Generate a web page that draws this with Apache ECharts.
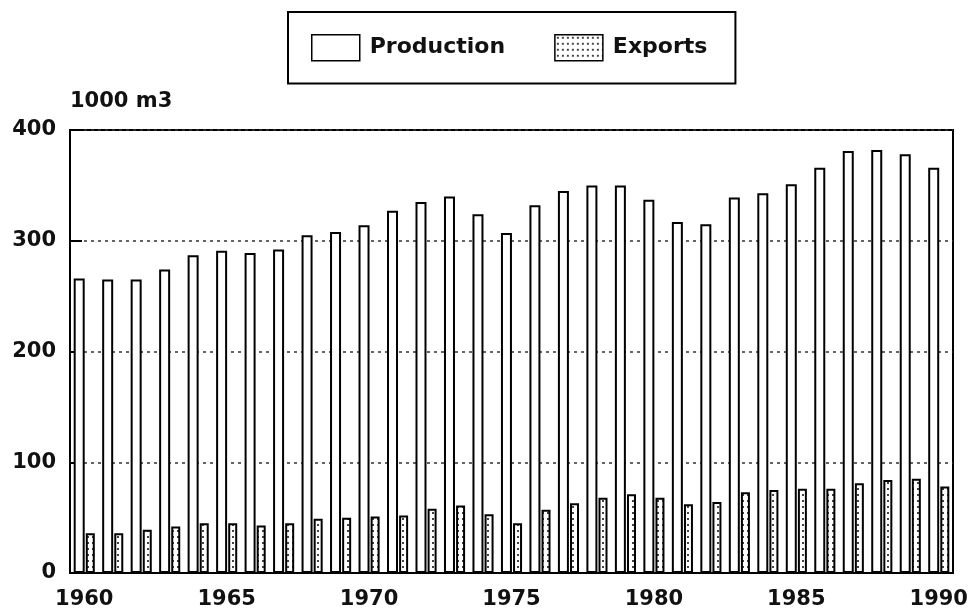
<!DOCTYPE html>
<html>
<head>
<meta charset="utf-8">
<title>Production and Exports</title>
<script src="https://cdn.jsdelivr.net/npm/echarts@6/dist/echarts.min.js"></script>
<style>
  html, body { margin: 0; padding: 0; background: #fff; }
  #chart { width: 975px; height: 613px; }
</style>
</head>
<body>
<div id="chart"></div>
<script>
// data (1000 m3)
const years = ['1960', '1961', '1962', '1963', '1964', '1965', '1966', '1967', '1968', '1969',
  '1970', '1971', '1972', '1973', '1974', '1975', '1976', '1977', '1978', '1979',
  '1980', '1981', '1982', '1983', '1984', '1985', '1986', '1987', '1988', '1989', '1990']
const production = [266, 265, 265, 274, 287, 291, 289, 292, 305, 308,
  314, 327, 335, 340, 324, 307, 332, 345, 350, 350,
  337, 317, 315, 339, 343, 351, 366, 381, 382, 378, 366]
const exportsData = [36, 36, 39, 42, 45, 45, 43, 45, 49, 50,
  51, 52, 58, 61, 53, 45, 57, 63, 68, 71,
  68, 62, 64, 73, 75, 76, 76, 81, 84, 85, 78]
const yTicks = [0, 100, 200, 300, 400]

// dotted fill for the exports bars
function dotPattern() {
  const c = document.createElement('canvas')
  c.width = 5
  c.height = 6
  const ctx = c.getContext('2d')
  ctx.fillStyle = '#fff'
  ctx.fillRect(0, 0, 5, 6)
  ctx.fillStyle = '#444'
  ctx.fillRect(2, 2, 2, 2)
  return c
}

const font = 'DejaVu Sans'
const chart = echarts.init(document.getElementById('chart'))
const option = {
  animation: false,
  backgroundColor: '#fff',
  legend: {
    left: 288,
    top: 12,
    orient: 'horizontal',
    borderColor: '#000',
    borderWidth: 2,
    padding: [22, 28, 22, 23],
    itemWidth: 48,
    itemHeight: 26,
    itemGap: 49,
    icon: 'rect',
    textStyle: {
      fontFamily: font,
      fontWeight: 'bold',
      fontSize: 22,
      color: '#111',
      padding: [0, 0, 0, 5]
    },
    itemStyle: { borderWidth: 1.5, borderColor: '#000' }
  },
  grid: {
    left: 70,
    right: 22,
    top: 130,
    bottom: 40,
    show: true,
    borderColor: '#000',
    borderWidth: 2
  },
  xAxis: {
    type: 'category',
    data: years,
    axisLine: { lineStyle: { color: '#000', width: 2 } },
    axisTick: { show: false },
    axisLabel: {
      interval: (i) => i % 5 === 0,
      margin: 16,
      fontFamily: font,
      fontWeight: 'bold',
      fontSize: 21,
      color: '#111'
    }
  },
  yAxis: {
    type: 'value',
    min: yTicks[0],
    max: yTicks[yTicks.length - 1],
    interval: 100,
    name: '1000 m3',
    nameLocation: 'end',
    nameGap: 18,
    nameTextStyle: {
      align: 'left',
      fontFamily: font,
      fontWeight: 'bold',
      fontSize: 21,
      color: '#111'
    },
    axisLine: { show: true, lineStyle: { color: '#000', width: 2 } },
    axisTick: { show: true, inside: true, length: 12, lineStyle: { color: '#000', width: 2 } },
    axisLabel: {
      margin: 14,
      fontFamily: font,
      fontWeight: 'bold',
      fontSize: 21,
      color: '#111'
    },
    splitLine: {
      show: true,
      lineStyle: { color: '#333', width: 1.5, type: [3, 4] }
    }
  },
  series: [
    {
      name: 'Production',
      type: 'bar',
      data: production,
      barWidth: 11,
      barGap: '10%',
      itemStyle: { color: '#fff', borderColor: '#000', borderWidth: 2 }
    },
    {
      name: 'Exports',
      type: 'bar',
      data: exportsData,
      barWidth: 9,
      itemStyle: {
        color: { image: dotPattern(), repeat: 'repeat' },
        borderColor: '#000',
        borderWidth: 2
      }
    }
  ]
}
chart.setOption(option)
</script>
</body>
</html>
